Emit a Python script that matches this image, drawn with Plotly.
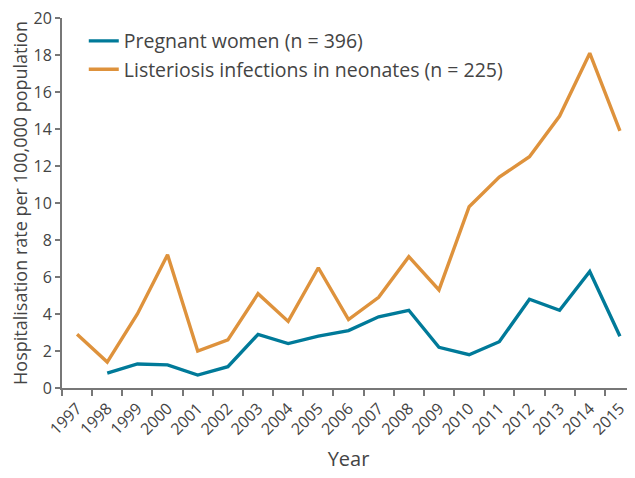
import plotly.graph_objects as go

years = [str(y) for y in range(1997, 2016)]
pregnant = [None, 0.8, 1.3, 1.25, 0.7, 1.15, 2.9, 2.4, 2.8, 3.1, 3.85, 4.2, 2.2, 1.8, 2.5, 4.8, 4.2, 6.3, 2.8]
neonates = [2.9, 1.4, 4.0, 7.2, 2.0, 2.6, 5.1, 3.6, 6.5, 3.7, 4.9, 7.1, 5.3, 9.8, 11.4, 12.5, 14.7, 18.1, 13.9]
yticks = list(range(0, 21, 2))

blue = "#007a99"
orange = "#de923c"
txt = "#444444"
axc = "#777777"
font = "Open Sans"

fig = go.Figure()
fig.add_trace(go.Scatter(x=years, y=pregnant, mode="lines", name="Pregnant women (n = 396)",
                         line=dict(color=blue, width=3.4), connectgaps=False))
fig.add_trace(go.Scatter(x=years, y=neonates, mode="lines", name="Listeriosis infections in neonates (n = 225)",
                         line=dict(color=orange, width=3.4)))

fig.update_layout(
    width=635, height=478,
    margin=dict(l=54, r=8, t=10, b=98),
    paper_bgcolor="white", plot_bgcolor="white",
    font=dict(family=font, color=txt, size=16),
    showlegend=True,
    legend=dict(x=0.038, y=0.99, xanchor="left", yanchor="top",
                font=dict(size=19.5, color=txt), bgcolor="rgba(0,0,0,0)",
                tracegroupgap=0, itemwidth=30),
    xaxis=dict(type="category", tickson="boundaries", range=[-0.5, 18.5],
               showline=True, linecolor=axc, linewidth=2,
               ticks="outside", ticklen=6, tickwidth=1.5, tickcolor=axc,
               tickangle=-45, tickfont=dict(size=16, color=txt),
               ticklabelstandoff=3,
               showgrid=False, zeroline=False, automargin=False,
               title=dict(text="Year", font=dict(size=20, color=txt), standoff=14)),
    yaxis=dict(range=[0, 20], tickvals=yticks,
               showline=True, linecolor=axc, linewidth=2,
               ticks="outside", ticklen=5, tickwidth=1.5, tickcolor=axc,
               tickfont=dict(size=16, color=txt), ticklabeloverflow="allow",
               showgrid=False, zeroline=False, automargin=False,
               title=dict(text="Hospitalisation rate per 100,000 population",
                          font=dict(size=18, color=txt), standoff=6)),
)

fig.write_html("out.html")
